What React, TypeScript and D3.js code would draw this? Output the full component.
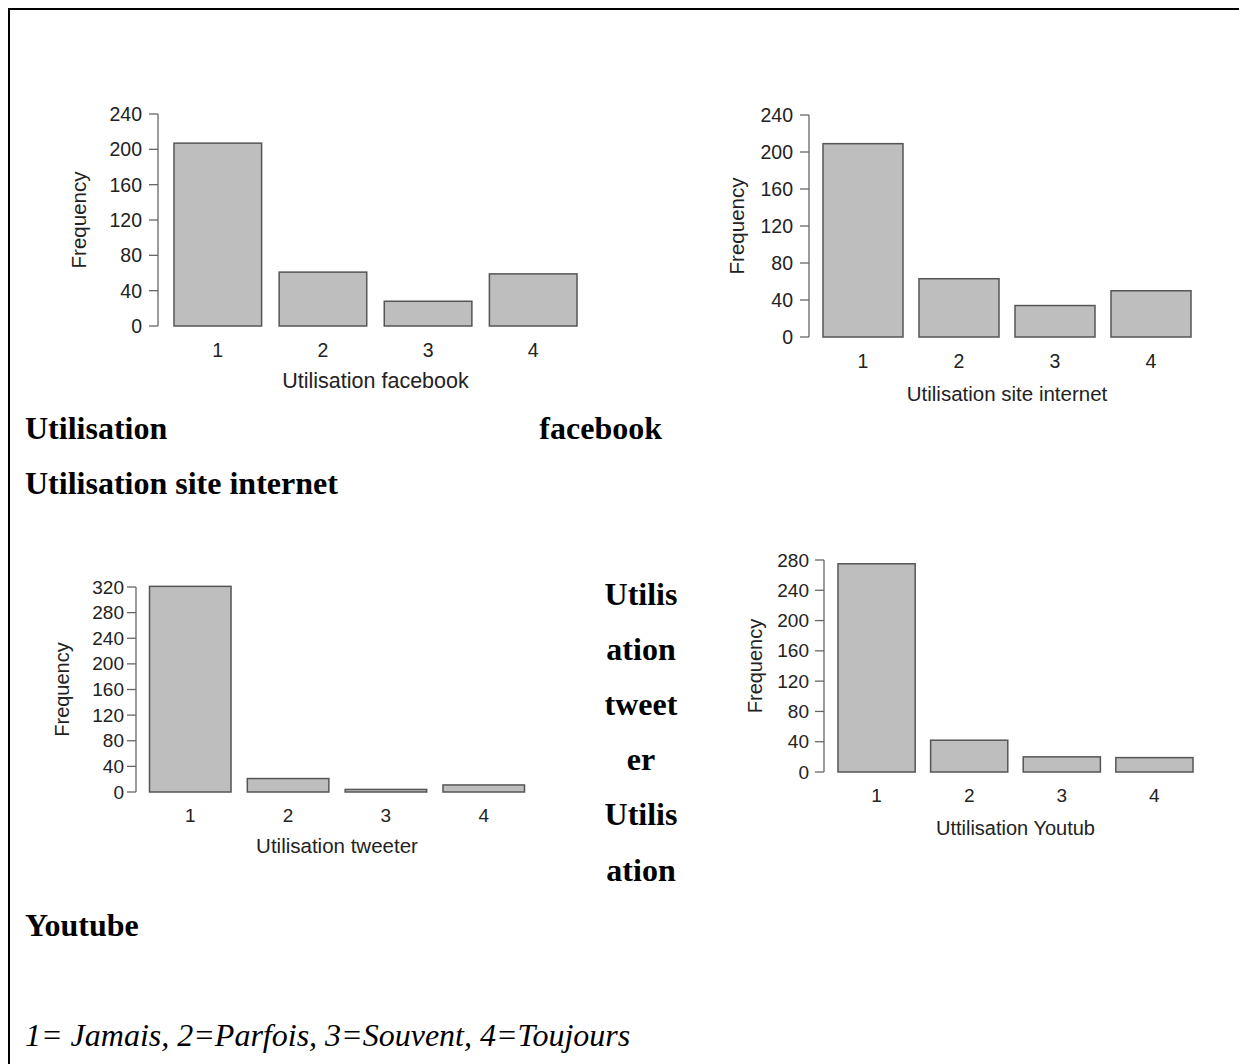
import React, { useEffect } from 'react';
import * as d3 from 'd3';

const categories = ['1', '2', '3', '4'];
const facebookValues = [207, 61, 28, 59];
const siteValues = [209, 63, 34, 50];
const tweeterValues = [321, 21, 4, 11];
const youtubValues = [275, 42, 20, 19];

const ticks240 = [0, 40, 80, 120, 160, 200, 240];
const ticks320 = [0, 40, 80, 120, 160, 200, 240, 280, 320];
const ticks280 = [0, 40, 80, 120, 160, 200, 240, 280];

const yLabel = 'Frequency';
const facebookTitle = 'Utilisation facebook';
const siteTitle = 'Utilisation site internet';
const tweeterTitle = 'Utilisation tweeter';
const youtubTitle = 'Uttilisation Youtub';

const legendText = '1= Jamais, 2=Parfois, 3=Souvent, 4=Toujours';

type PanelProps = {
  values: number[];
  ticks: number[];
  title: string;
  xRange: [number, number];
  yRange: [number, number];
  axisX: number;
  tickLen: number;
  labelEnd: number;
  tickLabelY: number;
  titleY: number;
  freqX: number;
  tickSize: number;
  titleSize: number;
  freqSize: number;
};

const sans = '"Liberation Sans", Arial, Helvetica, sans-serif';
const serif = '"Liberation Serif", "Times New Roman", Times, serif';

function Panel(p: PanelProps) {
  const x = d3.scaleBand<string>().domain(categories).range(p.xRange).paddingInner(0.2 / 1.2).paddingOuter(0);
  const maxTick = p.ticks[p.ticks.length - 1];
  const y = d3.scaleLinear().domain([0, maxTick]).range(p.yRange);
  const midX = (p.xRange[0] + p.xRange[1]) / 2;
  const midY = (p.yRange[0] + p.yRange[1]) / 2;
  return (
    <g>
      {p.values.map((v, i) => (
        <rect
          key={i}
          x={x(categories[i])}
          y={y(v)}
          width={x.bandwidth()}
          height={y(0) - y(v)}
          fill="#bebebe"
          stroke="#555"
          strokeWidth={1.5}
        />
      ))}
      <line x1={p.axisX} x2={p.axisX} y1={y(0)} y2={y(maxTick)} stroke="#666" strokeWidth={1.3} />
      {p.ticks.map((t) => (
        <g key={t}>
          <line x1={p.axisX - p.tickLen} x2={p.axisX} y1={y(t)} y2={y(t)} stroke="#666" strokeWidth={1.3} />
          <text
            x={p.labelEnd}
            y={y(t)}
            textAnchor="end"
            dominantBaseline="central"
            fontFamily={sans}
            fontSize={p.tickSize}
            fill="#222"
          >
            {t}
          </text>
        </g>
      ))}
      {categories.map((c) => (
        <text
          key={c}
          x={(x(c) as number) + x.bandwidth() / 2}
          y={p.tickLabelY}
          textAnchor="middle"
          dominantBaseline="central"
          fontFamily={sans}
          fontSize={p.tickSize}
          fill="#222"
        >
          {c}
        </text>
      ))}
      <text
        x={midX}
        y={p.titleY}
        textAnchor="middle"
        dominantBaseline="central"
        fontFamily={sans}
        fontSize={p.titleSize}
        fill="#222"
      >
        {p.title}
      </text>
      <text
        transform={`translate(${p.freqX},${midY}) rotate(-90)`}
        textAnchor="middle"
        dominantBaseline="central"
        fontFamily={sans}
        fontSize={p.freqSize}
        fill="#222"
      >
        {yLabel}
      </text>
    </g>
  );
}

export default function App() {
  useEffect(() => {
    document.body.style.margin = '0';
    document.body.style.overflow = 'hidden';
  }, []);
  const W = 1239;
  const H = 1064;
  const docText = { fontFamily: serif, fontSize: 32, fontWeight: 'bold' as const, fill: '#000' };
  const midLines = ['Utilis', 'ation', 'tweet', 'er', 'Utilis', 'ation'];
  const midBase = [605, 660, 715, 770, 825, 881];
  return (
    <svg width={W} height={H} style={{ position: 'absolute', left: 0, top: 0, display: 'block', background: '#fff' }}>
      <rect x={0} y={0} width={W} height={H} fill="#fff" />
      <line x1={9} x2={W} y1={9} y2={9} stroke="#000" strokeWidth={2} />
      <line x1={9} x2={9} y1={8} y2={H} stroke="#000" strokeWidth={2} />

      <Panel
        values={facebookValues}
        ticks={ticks240}
        title={facebookTitle}
        xRange={[174, 577]}
        yRange={[326, 114]}
        axisX={158}
        tickLen={9}
        labelEnd={142}
        tickLabelY={350}
        titleY={381}
        freqX={78}
        tickSize={19.5}
        titleSize={21.5}
        freqSize={20.5}
      />
      <Panel
        values={siteValues}
        ticks={ticks240}
        title={siteTitle}
        xRange={[823, 1191]}
        yRange={[337, 115]}
        axisX={809}
        tickLen={9}
        labelEnd={793}
        tickLabelY={361}
        titleY={393}
        freqX={736}
        tickSize={19.5}
        titleSize={20.5}
        freqSize={20.5}
      />
      <Panel
        values={tweeterValues}
        ticks={ticks320}
        title={tweeterTitle}
        xRange={[149.5, 524.5]}
        yRange={[792, 587]}
        axisX={136}
        tickLen={9}
        labelEnd={124}
        tickLabelY={815}
        titleY={845}
        freqX={62}
        tickSize={19}
        titleSize={20.5}
        freqSize={20}
      />
      <Panel
        values={youtubValues}
        ticks={ticks280}
        title={youtubTitle}
        xRange={[838, 1193]}
        yRange={[772, 560]}
        axisX={824}
        tickLen={9}
        labelEnd={809}
        tickLabelY={795}
        titleY={828}
        freqX={755}
        tickSize={19}
        titleSize={20}
        freqSize={20}
      />

      <text x={25} y={439} {...docText}>Utilisation</text>
      <text x={662} y={439} textAnchor="end" {...docText}>facebook</text>
      <text x={25} y={494} {...docText}>Utilisation site internet</text>
      {midLines.map((t, i) => (
        <text key={i} x={641} y={midBase[i]} textAnchor="middle" {...docText}>{t}</text>
      ))}
      <text x={25} y={936} {...docText}>Youtube</text>
      <text x={25} y={1046} fontFamily={serif} fontSize={32} fontStyle="italic" fill="#000">{legendText}</text>
    </svg>
  );
}
